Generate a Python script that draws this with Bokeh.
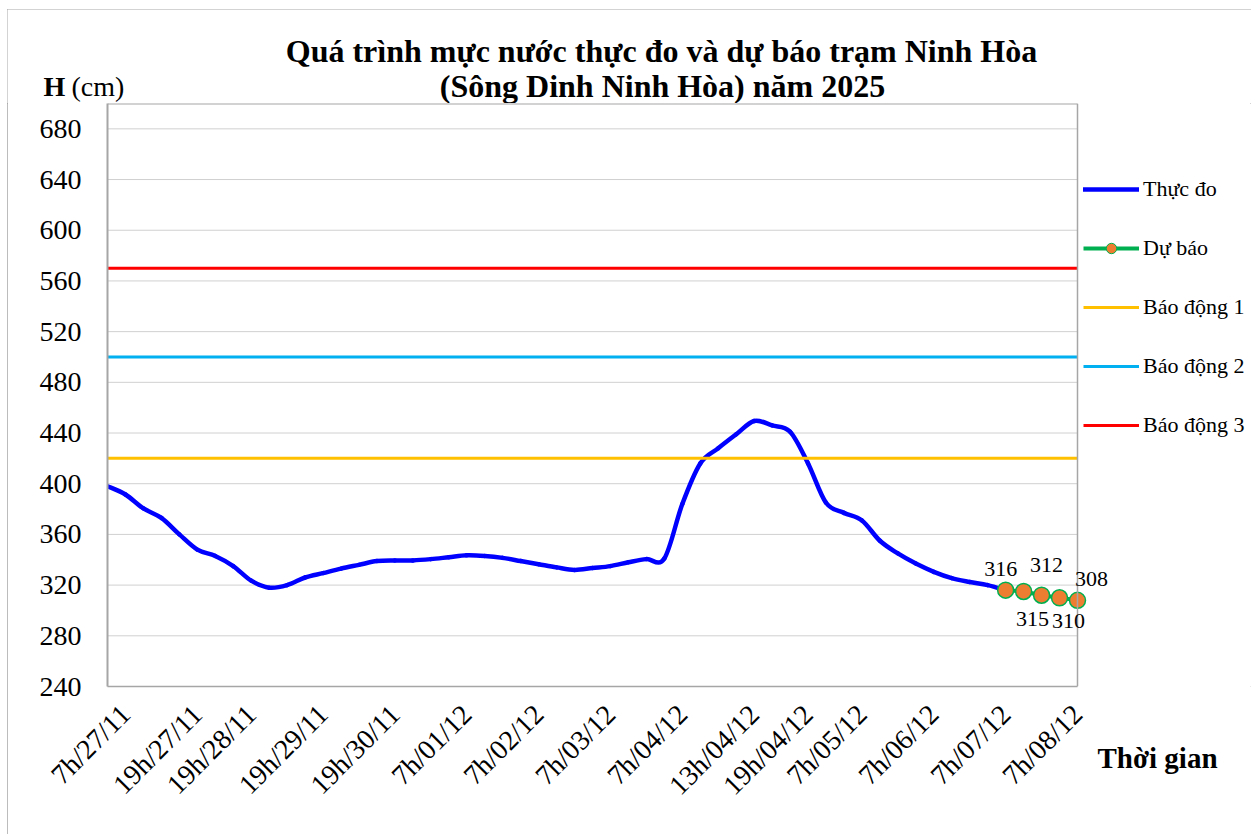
import numpy as np
from bokeh.plotting import figure
from bokeh.layouts import column
from bokeh.models import (Range1d, FixedTicker, Legend, LegendItem, Label,
                          LabelSet, ColumnDataSource, Span, Title)
from bokeh.core.properties import value
from bokeh.embed import file_html
from bokeh.resources import INLINE
import math

# ---------------- data ----------------
title_lines = ["Quá trình mực nước thực đo và dự báo trạm Ninh Hòa",
               "(Sông Dinh Ninh Hòa) năm 2025"]
y_title_bold = "H"
y_title_unit = "(cm)"
x_title = "Thời gian"

time_labels = ["7h/27/11", "19h/27/11", "19h/28/11", "19h/29/11", "19h/30/11",
               "7h/01/12", "7h/02/12", "7h/03/12", "7h/04/12", "13h/04/12",
               "19h/04/12", "7h/05/12", "7h/06/12", "7h/07/12", "7h/08/12"]
label_index = [1, 5, 8, 12, 16, 20, 24, 28, 32, 36, 39, 42, 46, 50, 54]

measured = [398, 391.5, 380.5, 373, 360, 348, 343, 335, 323.5, 318,
            320, 326, 329.5, 333, 336, 339, 339.5, 339.5, 340.5, 342,
            343.5, 343, 341.5, 339, 336.5, 334, 332, 333.5, 335, 338,
            340.5, 341, 384, 416, 428, 439, 449.5, 446, 441, 416,
            385, 377, 371, 355, 345, 337, 330.5, 325.5, 322.5, 320,
            316]
forecast = [316, 315, 312, 310, 308]

alarm_names = ["Báo động 1", "Báo động 2", "Báo động 3"]
alarm_levels = [420, 500, 570]

y_ticks = list(range(240, 681, 40))

# ---------------- style / geometry ----------------
FONT = "Liberation Serif"
C_MEAS = "#0000FF"
C_FC_LINE = "#00B050"
C_FC_DOT = "#ED7D31"
alarm_colors = ["#FFC000", "#00B0F0", "#FF0000"]
C_BORDER = "#a6a6a6"

OX, OY = 7, 9                 # page position of the chart box
W = 1244                      # chart box width
IL, IR, IT, IB = 107, 1077, 103, 686   # plot-area edges on the page
HEAD_H = IT - OY              # header strip height
MAIN_H = 834 - IT             # main figure height
X0, X1 = 0, 54
Y0, Y1 = 240, 700
LEFT = IL - OX
XR = X0 + (W - LEFT) * (X1 - X0) / (IR - IL)   # frame runs to the right edge

# ---------------- header (titles, y-axis title) ----------------
head = figure(width=W, height=HEAD_H, output_backend="svg",
              toolbar_location=None, x_range=Range1d(0, W),
              y_range=Range1d(0, HEAD_H), min_border=0,
              min_border_left=0, min_border_right=0,
              min_border_top=0, min_border_bottom=0,
              x_axis_type=None, y_axis_type=None,
              background_fill_color="white", border_fill_color="white")
head.title = None
head.outline_line_color = None
head.grid.visible = False


def hx(ix):
    return ix - OX


def hy(iy):
    return IT - iy


head.add_layout(Label(x=hx(661), y=hy(50), text=title_lines[0],
                      text_align="center", text_baseline="middle",
                      text_font=FONT, text_font_style="bold",
                      text_font_size="32px", text_color="black"))
head.add_layout(Label(x=hx(662), y=hy(85), text=title_lines[1],
                      text_align="center", text_baseline="middle",
                      text_font=FONT, text_font_style="bold",
                      text_font_size="32px", text_color="black"))
head.add_layout(Label(x=hx(43), y=hy(86), text=y_title_bold,
                      text_align="left", text_baseline="middle",
                      text_font=FONT, text_font_style="bold",
                      text_font_size="28px", text_color="black"))
head.add_layout(Label(x=hx(71), y=hy(86), text=y_title_unit,
                      text_align="left", text_baseline="middle",
                      text_font=FONT, text_font_size="28px",
                      text_color="black"))

# ---------------- main figure ----------------
p = figure(width=W, height=MAIN_H, output_backend="svg", toolbar_location=None,
           x_range=Range1d(X0, XR), y_range=Range1d(Y0, Y1),
           min_border_left=LEFT, min_border_right=0,
           min_border_top=0, min_border_bottom=834 - IB,
           background_fill_color="white", border_fill_color="white")
p.title = None
p.outline_line_color = None
p.xgrid.visible = False
p.ygrid.visible = False

for f in (head, p):
    if "frame_align" in f.properties():
        f.frame_align = False

# y axis
p.yaxis.ticker = FixedTicker(ticks=y_ticks)
p.yaxis.major_tick_line_color = None
p.yaxis.minor_tick_line_color = None
p.yaxis.major_tick_out = 0
p.yaxis.major_tick_in = 0
p.yaxis.major_label_standoff = 26
p.yaxis.major_label_text_font = FONT
p.yaxis.major_label_text_font_size = "28px"
p.yaxis.major_label_text_color = "black"
p.yaxis.axis_line_color = C_BORDER
p.yaxis.axis_line_width = 2

# x axis
p.xaxis.ticker = FixedTicker(ticks=label_index)
p.xaxis.bounds = (X0, X1)
p.xaxis.major_label_overrides = {i: t for i, t in zip(label_index, time_labels)}
p.xaxis.major_label_orientation = math.pi / 4
p.xaxis.major_tick_line_color = None
p.xaxis.minor_tick_line_color = None
p.xaxis.major_tick_out = 0
p.xaxis.major_tick_in = 0
p.xaxis.major_label_standoff = 23
p.xaxis.major_label_text_font = FONT
p.xaxis.major_label_text_font_size = "28px"
p.xaxis.major_label_text_color = "black"
p.xaxis.axis_line_color = C_BORDER
p.xaxis.axis_line_width = 1.5

# gridlines and plot-area border
p.segment(x0=[X0] * len(y_ticks), y0=y_ticks, x1=[X1] * len(y_ticks),
          y1=y_ticks, line_color="#d0d0d0", line_width=1)
p.line(x=[X0, X1], y=[Y1, Y1], line_color=C_BORDER, line_width=2)
p.add_layout(Span(location=X1, dimension="height", line_color=C_BORDER,
                  line_width=1.5))

# measured series, smoothed with cubic bezier segments
mx = np.arange(len(measured), dtype=float)
my = np.array(measured, dtype=float)
n = len(mx)
px_ = np.concatenate([[mx[0]], mx, [mx[-1]]])
py_ = np.concatenate([[my[0]], my, [my[-1]]])
x0s, y0s = mx[:-1], my[:-1]
x1s, y1s = mx[1:], my[1:]
cx0 = x0s + (px_[2:n + 1] - px_[0:n - 1]) / 6.0
cy0 = y0s + (py_[2:n + 1] - py_[0:n - 1]) / 6.0
cx1 = x1s - (px_[3:n + 2] - px_[1:n]) / 6.0
cy1 = y1s - (py_[3:n + 2] - py_[1:n]) / 6.0
bz = ColumnDataSource(dict(x0=x0s, y0=y0s, x1=x1s, y1=y1s,
                           cx0=cx0, cy0=cy0, cx1=cx1, cy1=cy1))
meas_curve = p.bezier(x0="x0", y0="y0", x1="x1", y1="y1", cx0="cx0",
                      cy0="cy0", cx1="cx1", cy1="cy1", source=bz,
                      line_color=C_MEAS, line_width=4.5,
                      line_cap="round", line_join="round")

# forecast series
fx = list(range(len(measured) - 1, len(measured) - 1 + len(forecast)))
fc_line = p.line(x=fx, y=forecast, line_color=C_FC_LINE, line_width=4)

# alarm levels
alarm_renderers = []
for lvl, col in zip(alarm_levels, alarm_colors):
    r = p.line(x=[X0, X1], y=[lvl, lvl], line_color=col, line_width=3)
    alarm_renderers.append(r)

# small markers (legend swatch) sit under the plotted markers
fc_leg_dot = p.scatter(x=fx, y=forecast, size=9, fill_color=C_FC_DOT,
                       line_color=C_FC_LINE, line_width=1)
fc_dots = p.scatter(x=fx, y=forecast, size=16, fill_color=C_FC_DOT,
                    line_color=C_FC_LINE, line_width=1.5)

# forecast value labels
lab_dx = [-5, 9, 5, 9, 14]
lab_dy = [21, -28, 30, -23, 21]
lsrc = ColumnDataSource(dict(x=fx, y=forecast, t=[str(v) for v in forecast],
                             dx=lab_dx, dy=lab_dy))
p.add_layout(LabelSet(x="x", y="y", text="t", source=lsrc, x_offset="dx",
                      y_offset="dy", text_align="center",
                      text_baseline="middle", text_font=value(FONT),
                      text_font_size="22px", text_color="black"))

# legend
legend = Legend(items=[
    LegendItem(label="Thực đo", renderers=[meas_curve]),
    LegendItem(label="Dự báo", renderers=[fc_line, fc_leg_dot]),
    LegendItem(label=alarm_names[0], renderers=[alarm_renderers[0]]),
    LegendItem(label=alarm_names[1], renderers=[alarm_renderers[1]]),
    LegendItem(label=alarm_names[2], renderers=[alarm_renderers[2]]),
], location=(1083 - IL, IB - 438), orientation="vertical", padding=0,
    margin=0, spacing=33, glyph_width=56, glyph_height=26, label_height=26,
    label_standoff=4, background_fill_alpha=0, border_line_alpha=0,
    label_text_font=FONT, label_text_font_size="22px",
    label_text_color="black")
p.add_layout(legend)

# x-axis title, placed beside the last tick labels
p.add_layout(Title(text=x_title, align="left", offset=1097 - IL,
                   vertical_align="top", standoff=-146, text_font=FONT,
                   text_font_style="bold", text_font_size="29px",
                   text_color="black"), "below")

layout = column(head, p, spacing=0)
layout.margin = (OY, 0, 0, OX)
layout.styles = {"outline": "1px solid " + C_BORDER, "outline-offset": "-1px"}

open("out.html", "w").write(file_html(layout, INLINE))
